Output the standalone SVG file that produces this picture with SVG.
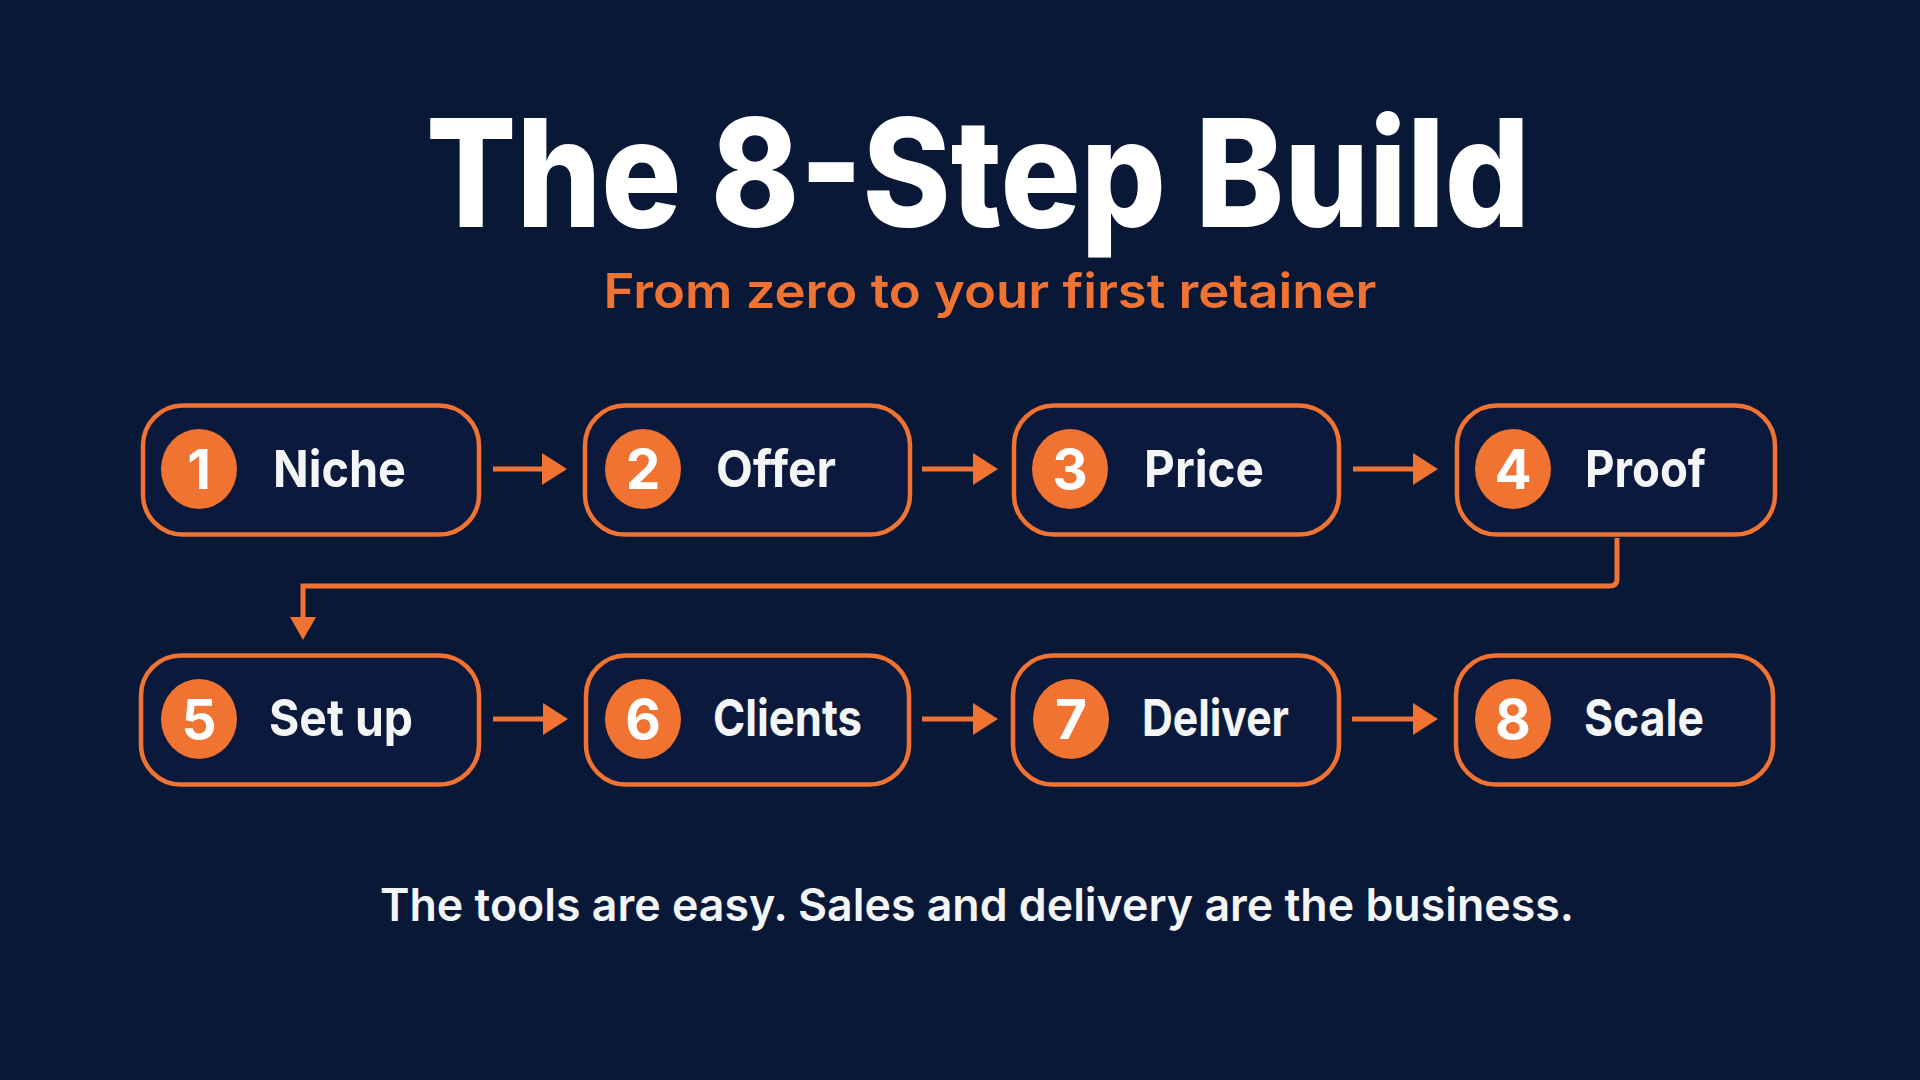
<svg xmlns="http://www.w3.org/2000/svg" width="1920" height="1080" viewBox="0 0 1920 1080">
  <style>
    .box { fill: #0b1a3c; stroke: #f07332; stroke-width: 4.5; }
    .badge { fill: #f07332; }
    .num { font-family: Inter, "Liberation Sans", sans-serif; font-weight: 700; font-size: 55px; fill: #ffffff; text-anchor: middle; }
    .label { font-family: Inter, "Liberation Sans", sans-serif; font-weight: 700; font-size: 51px; fill: #f4f5f7; }
    .conn { fill: none; stroke: #f07332; stroke-width: 5; }
  </style>
  <defs>
    <marker id="ah" markerUnits="userSpaceOnUse" markerWidth="26" markerHeight="34" refX="3" refY="16" orient="auto">
      <path d="M0,0 L25,16 L0,32 z" fill="#f07332"/>
    </marker>
    <marker id="ahd" markerUnits="userSpaceOnUse" markerWidth="24" markerHeight="28" refX="3" refY="13" orient="auto">
      <path d="M0,0 L23,13 L0,26 z" fill="#f07332"/>
    </marker>
  </defs>
  <rect x="0" y="0" width="1920" height="1080" fill="#0a1838"/>

  <text x="978" y="227" text-anchor="middle" textLength="1104" lengthAdjust="spacingAndGlyphs" font-family="Inter, 'Liberation Sans', sans-serif" font-weight="800" font-size="150" fill="#ffffff">The 8-Step Build</text>
  <text x="990" y="308" text-anchor="middle" textLength="773" lengthAdjust="spacingAndGlyphs" font-family="Inter, 'Liberation Sans', sans-serif" font-weight="600" font-size="48" fill="#f07332">From zero to your first retainer</text>

  <g id="connectors">
    <line class="conn" x1="493" y1="469" x2="545" y2="469" marker-end="url(#ah)"/>
    <line class="conn" x1="922" y1="469" x2="976" y2="469" marker-end="url(#ah)"/>
    <line class="conn" x1="1353" y1="469" x2="1416" y2="469" marker-end="url(#ah)"/>
    <path class="conn" d="M1617,538 V579 Q1617,586 1610,586 H303 V620" marker-end="url(#ahd)"/>
    <line class="conn" x1="493" y1="719" x2="546" y2="719" marker-end="url(#ah)"/>
    <line class="conn" x1="922" y1="719" x2="976" y2="719" marker-end="url(#ah)"/>
    <line class="conn" x1="1352" y1="719" x2="1416" y2="719" marker-end="url(#ah)"/>
  </g>

  <g id="node1">
    <rect class="box" x="143" y="405.5" width="336" height="129" rx="40"/>
    <ellipse class="badge" cx="199" cy="469" rx="38" ry="40"/>
    <text class="num" x="199" y="489">1</text>
    <text class="label" x="273" y="487" textLength="133" lengthAdjust="spacingAndGlyphs">Niche</text>
  </g>
  <g id="node2">
    <rect class="box" x="585" y="405.5" width="325" height="129" rx="40"/>
    <ellipse class="badge" cx="643" cy="469" rx="38" ry="40"/>
    <text class="num" x="643" y="489">2</text>
    <text class="label" x="716" y="487" textLength="120" lengthAdjust="spacingAndGlyphs">Offer</text>
  </g>
  <g id="node3">
    <rect class="box" x="1014" y="405.5" width="325" height="129" rx="40"/>
    <ellipse class="badge" cx="1070" cy="469" rx="38" ry="40"/>
    <text class="num" x="1070" y="489">3</text>
    <text class="label" x="1144" y="487" textLength="120" lengthAdjust="spacingAndGlyphs">Price</text>
  </g>
  <g id="node4">
    <rect class="box" x="1457" y="405.5" width="318" height="129" rx="40"/>
    <ellipse class="badge" cx="1513" cy="469" rx="38" ry="40"/>
    <text class="num" x="1513" y="489">4</text>
    <text class="label" x="1585" y="487" textLength="121" lengthAdjust="spacingAndGlyphs">Proof</text>
  </g>
  <g id="node5">
    <rect class="box" x="141" y="655.5" width="338" height="129" rx="40"/>
    <ellipse class="badge" cx="199" cy="719" rx="38" ry="40"/>
    <text class="num" x="199" y="739">5</text>
    <text class="label" x="269" y="736" textLength="144" lengthAdjust="spacingAndGlyphs">Set up</text>
  </g>
  <g id="node6">
    <rect class="box" x="586" y="655.5" width="323" height="129" rx="40"/>
    <ellipse class="badge" cx="643" cy="719" rx="38" ry="40"/>
    <text class="num" x="643" y="739">6</text>
    <text class="label" x="713" y="736" textLength="149" lengthAdjust="spacingAndGlyphs">Clients</text>
  </g>
  <g id="node7">
    <rect class="box" x="1013" y="655.5" width="326" height="129" rx="40"/>
    <ellipse class="badge" cx="1071" cy="719" rx="38" ry="40"/>
    <text class="num" x="1071" y="739">7</text>
    <text class="label" x="1142" y="736" textLength="147" lengthAdjust="spacingAndGlyphs">Deliver</text>
  </g>
  <g id="node8">
    <rect class="box" x="1456" y="655.5" width="317" height="129" rx="40"/>
    <ellipse class="badge" cx="1513" cy="719" rx="38" ry="40"/>
    <text class="num" x="1513" y="739">8</text>
    <text class="label" x="1584" y="736" textLength="120" lengthAdjust="spacingAndGlyphs">Scale</text>
  </g>

  <text x="977" y="921" text-anchor="middle" textLength="1194" lengthAdjust="spacingAndGlyphs" font-family="Inter, 'Liberation Sans', sans-serif" font-weight="600" font-size="45" fill="#f4f5f7">The tools are easy. Sales and delivery are the business.</text>
</svg>
